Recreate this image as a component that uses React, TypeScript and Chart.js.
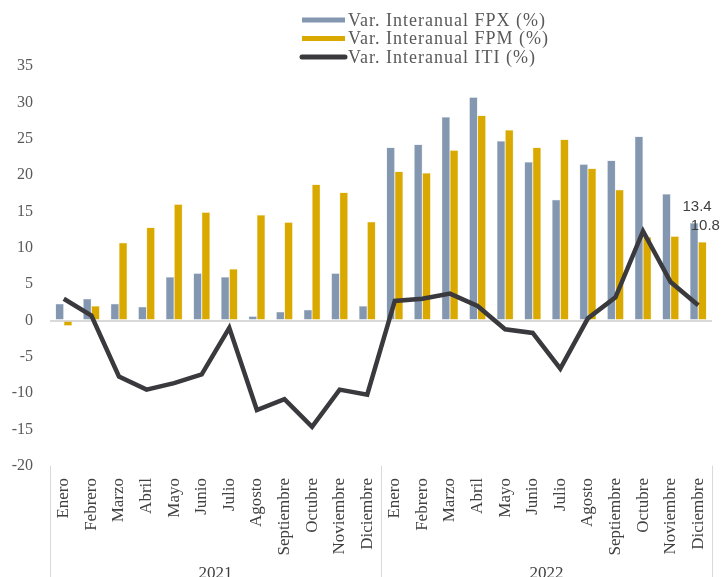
import { useEffect, useRef } from "react"
import { Chart, registerables } from "chart.js"

Chart.register(...registerables)

const months = [
  "Enero", "Febrero", "Marzo", "Abril", "Mayo", "Junio",
  "Julio", "Agosto", "Septiembre", "Octubre", "Noviembre", "Diciembre",
]
const years = ["2021", "2022"]
const labels = years.flatMap(() => months)

const fpx = [
  2.3, 3.0, 2.3, 1.9, 6.0, 6.5, 6.0, 0.6, 1.2, 1.5, 6.5, 2.0,
  23.8, 24.2, 28.0, 30.7, 24.7, 21.8, 16.6, 21.5, 22.0, 25.3, 17.4, 13.4,
]
const fpm = [
  -0.7, 2.0, 10.7, 12.8, 16.0, 14.9, 7.1, 14.5, 13.5, 18.7, 17.6, 13.6,
  20.5, 20.3, 23.4, 28.2, 26.2, 23.8, 24.9, 20.9, 18.0, 11.5, 11.6, 10.8,
]
const iti = [
  3.0, 0.7, -7.7, -9.5, -8.6, -7.4, -1.0, -12.3, -10.8, -14.6, -9.5, -10.2,
  2.7, 3.0, 3.7, 2.0, -1.2, -1.7, -6.6, 0.3, 3.2, 12.3, 5.3, 2.1,
]

const serif = "'Liberation Serif', 'DejaVu Serif', serif"
const BLUE = "#8497B0"
const GOLD = "#DAA900"
const DARK = "#3A393E"

const legendItems = [
  { text: "Var. Interanual FPX (%)", color: BLUE, kind: "box" },
  { text: "Var. Interanual FPM (%)", color: GOLD, kind: "box" },
  { text: "Var. Interanual ITI (%)", color: DARK, kind: "line" },
]

// legend, year groups and the two end labels
const extrasPlugin = {
  id: "extras",
  afterDraw(chart: Chart) {
    const { ctx, scales } = chart
    const x = scales.x
    const area = chart.chartArea
    ctx.save()

    // legend
    ctx.font = `18px ${serif}`
    ;(ctx as any).letterSpacing = "1px"
    ctx.textBaseline = "middle"
    ctx.textAlign = "left"
    legendItems.forEach((item, i) => {
      const cy = 20 + i * 18.5
      if (item.kind === "box") {
        ctx.fillStyle = item.color
        ctx.fillRect(302, cy - 2.5, 43, 5)
      } else {
        ctx.strokeStyle = item.color
        ctx.lineWidth = 5
        ctx.lineCap = "round"
        ctx.beginPath()
        ctx.moveTo(302, cy)
        ctx.lineTo(345, cy)
        ctx.stroke()
      }
      ctx.fillStyle = "#595959"
      ctx.fillText(item.text, 348, cy + 1)
    })
    ;(ctx as any).letterSpacing = "0px"

    // year groups
    const mid = (x.getPixelForTick(11) + x.getPixelForTick(12)) / 2
    const bounds = [area.left, mid, area.right]
    ctx.strokeStyle = "#D9D9D9"
    ctx.lineWidth = 1
    bounds.forEach((bx) => {
      ctx.beginPath()
      ctx.moveTo(Math.round(bx) + 0.5, area.bottom)
      ctx.lineTo(Math.round(bx) + 0.5, chart.height)
      ctx.stroke()
    })
    ctx.fillStyle = "#404040"
    ctx.textAlign = "center"
    ctx.textBaseline = "alphabetic"
    ctx.font = `17px ${serif}`
    years.forEach((yr, i) => {
      ctx.fillText(yr, (bounds[i] + bounds[i + 1]) / 2, chart.height + 1)
    })

    // value labels on the last bars
    ctx.font = "15px 'Liberation Sans', 'DejaVu Sans', sans-serif"
    ctx.fillStyle = "#404040"
    ctx.textAlign = "center"
    ctx.textBaseline = "middle"
    ;[1, 2].forEach((dsIndex) => {
      const meta = chart.getDatasetMeta(dsIndex)
      const last = meta.data.length - 1
      const el = meta.data[last] as any
      const v = chart.data.datasets[dsIndex].data[last] as number
      ctx.fillText(v.toFixed(1), el.x + 3, el.y - 16)
    })
    ctx.restore()
  },
}

export default function App() {
  const canvasRef = useRef<HTMLCanvasElement>(null)
  const chartRef = useRef<Chart | null>(null)

  useEffect(() => {
    if (!canvasRef.current) return
    if (chartRef.current) chartRef.current.destroy()

    chartRef.current = new Chart(canvasRef.current, {
      type: "bar",
      data: {
        labels,
        datasets: [
          {
            type: "line",
            label: "Var. Interanual ITI (%)",
            data: iti,
            borderColor: DARK,
            borderWidth: 4.5,
            pointRadius: 0,
            tension: 0,
            order: 0,
          },
          {
            label: "Var. Interanual FPX (%)",
            data: fpx,
            backgroundColor: BLUE,
            borderColor: "#C9D2DE",
            borderWidth: 0.5,
            barPercentage: 1,
            categoryPercentage: 0.6,
            order: 1,
          },
          {
            label: "Var. Interanual FPM (%)",
            data: fpm,
            backgroundColor: GOLD,
            borderColor: "#F0D98A",
            borderWidth: 0.5,
            barPercentage: 1,
            categoryPercentage: 0.6,
            order: 1,
          },
        ] as any,
      },
      options: {
        animation: false,
        responsive: true,
        maintainAspectRatio: false,
        layout: { padding: { top: 66, right: 12, left: 0, bottom: 0 } },
        plugins: {
          legend: { display: false },
          tooltip: { enabled: false },
        },
        scales: {
          x: {
            grid: { display: false },
            border: { display: false },
            ticks: {
              minRotation: 90,
              maxRotation: 90,
              autoSkip: false,
              padding: 4,
              color: "#404040",
              font: { family: serif, size: 17 },
            },
            afterFit: (scale: any) => {
              scale.height = 111
            },
          },
          y: {
            min: -20,
            max: 35,
            ticks: {
              stepSize: 5,
              padding: 17,
              color: "#595959",
              font: { family: serif, size: 16 },
            },
            grid: {
              drawTicks: false,
              color: (c: any) => (c.tick && c.tick.value === 0 ? "#D9D9D9" : "transparent"),
              lineWidth: 2,
            },
            border: { display: false },
            afterFit: (scale: any) => {
              scale.width = 50
            },
          },
        },
      },
      plugins: [extrasPlugin],
    })

    return () => {
      if (chartRef.current) {
        chartRef.current.destroy()
        chartRef.current = null
      }
    }
  }, [])

  return (
    <div style={{ position: "fixed", left: 0, top: 0, width: 724, height: 577, background: "#fff" }}>
      <canvas ref={canvasRef} />
    </div>
  )
}
